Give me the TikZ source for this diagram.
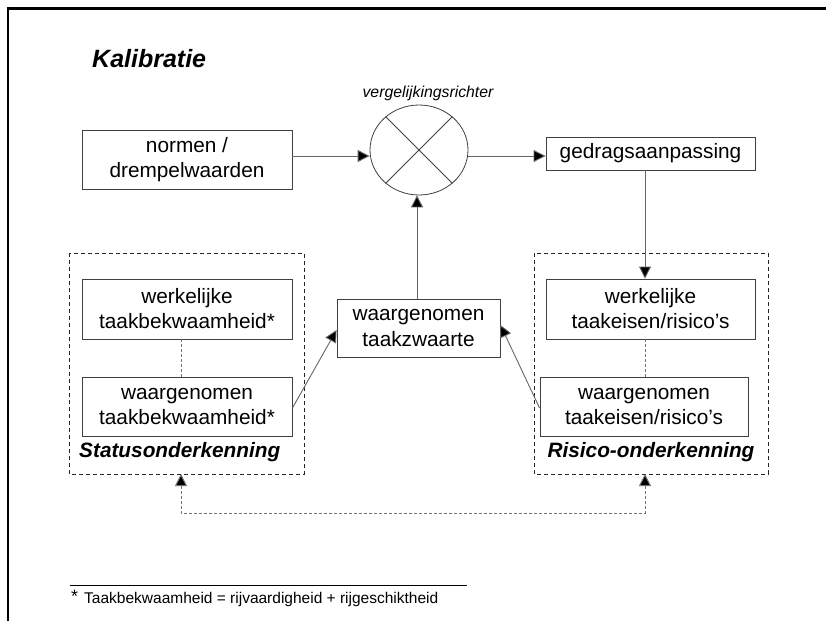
\documentclass[tikz,border=0pt]{standalone}
\usepackage{fontspec}
\setmainfont{Liberation Sans}
\usetikzlibrary{shapes.geometric,arrows.meta}
\begin{document}
\begin{tikzpicture}[x=1pt,y=-1pt,
  box/.style={draw=black!75,line width=0.9pt,rectangle,inner sep=0pt,align=center,
    font=\fontsize{20.8}{25}\selectfont},
  grp/.style={draw=black!85,line width=0.8pt,dash pattern=on 4pt off 3pt},
  tip/.style={-{Triangle[length=12pt,width=12pt,fill=black]}},
  arr/.style={draw=black!60,line width=0.9pt,tip},
  dotl/.style={draw=black!55,line width=1pt,dash pattern=on 3pt off 2pt},
  lbl/.style={font=\fontsize{20.8}{25}\selectfont\bfseries\itshape,inner sep=0pt}]
\useasboundingbox (0,0) rectangle (826,621);
\fill[white] (0,0) rectangle (826,621);
% frame
\draw[line width=2.7pt] (8,621) -- (8,8.5) -- (826,8.5);
% title
\node[anchor=base west,inner sep=0pt,font=\fontsize{25}{30}\selectfont\bfseries\itshape] (title) at (92,67.5) {Kalibratie};
% group boxes
\draw[grp] (69,253) rectangle (304,474);
\draw[grp] (534,253) rectangle (768,474);
% nodes
\node[box,minimum width=210pt,minimum height=59pt] (normen) at (187,159.5) {normen /\\drempelwaarden};
\node[draw=black!75,line width=0.8pt,ellipse,minimum width=98pt,minimum height=90pt,inner sep=0pt] (circ) at (419,150) {};
\draw[black!75,line width=0.8pt] (circ.45) -- (circ.225) (circ.135) -- (circ.315);
\node[anchor=base,inner sep=0pt,font=\fontsize{15.8}{18}\selectfont\itshape] (vlabel) at (428,97) {vergelijkingsrichter};
\node[box,minimum width=209pt,minimum height=33pt] (gedrag) at (650.5,153.5) {gedragsaanpassing};
\node[box,minimum width=210pt,minimum height=60pt] (werkW) at (187,309) {werkelijke\\taakbekwaamheid*};
\node[box,minimum width=210pt,minimum height=59pt] (waarW) at (187,406.5) {waargenomen\\taakbekwaamheid*};
\node[box,minimum width=209pt,minimum height=60pt] (werkR) at (650.5,309) {werkelijke\\taakeisen/risico’s};
\node[box,minimum width=208pt,minimum height=59pt] (waarR) at (644,406.5) {waargenomen\\taakeisen/risico’s};
\node[box,minimum width=163pt,minimum height=58pt] (zwaarte) at (418.5,328) {waargenomen\\taakzwaarte};
\node[lbl,anchor=west] (status) at (79,452) {Statusonderkenning};
\node[lbl] (risico) at (651,452) {Risico-onderkenning};
% connectors
\draw[arr] (normen.east |- 0,156) -- (circ.west |- 0,156);
\draw[arr] (circ.east |- 0,156) -- (gedrag.west |- 0,156);
\draw[arr] (gedrag.south -| 645,0) -- (werkR.north -| 645,0);
\draw[arr] (zwaarte.north -| 417,0) -- (circ.south -| 417,0);
\draw[arr] (waarW.east |- 0,408) -- (zwaarte.west |- 0,330);
\draw[arr] (waarR.west |- 0,408) -- (zwaarte.east |- 0,325);
\draw[dotl] (werkW.south -| 181,0) -- (waarW.north -| 181,0);
\draw[dotl] (werkR.south -| 645,0) -- (waarR.north -| 645,0);
\coordinate (fbL) at (181,513);
\coordinate (fbR) at (645,513);
\draw[dotl,{Triangle[length=12pt,width=12pt,fill=black]}-{Triangle[length=12pt,width=12pt,fill=black]}] (181,474) -- (fbL) -- (fbR) -- (645,474);
% footnote
\draw[line width=0.7pt] (70,585) -- (467,585);
\node[anchor=base west,inner sep=0pt,font=\fontsize{15.5}{18}\selectfont] (foot) at (71,603) {\raisebox{1pt}{\fontsize{18}{18}\selectfont *}\hspace{6pt}Taakbekwaamheid = rijvaardigheid + rijgeschiktheid};
\end{tikzpicture}
\end{document}
